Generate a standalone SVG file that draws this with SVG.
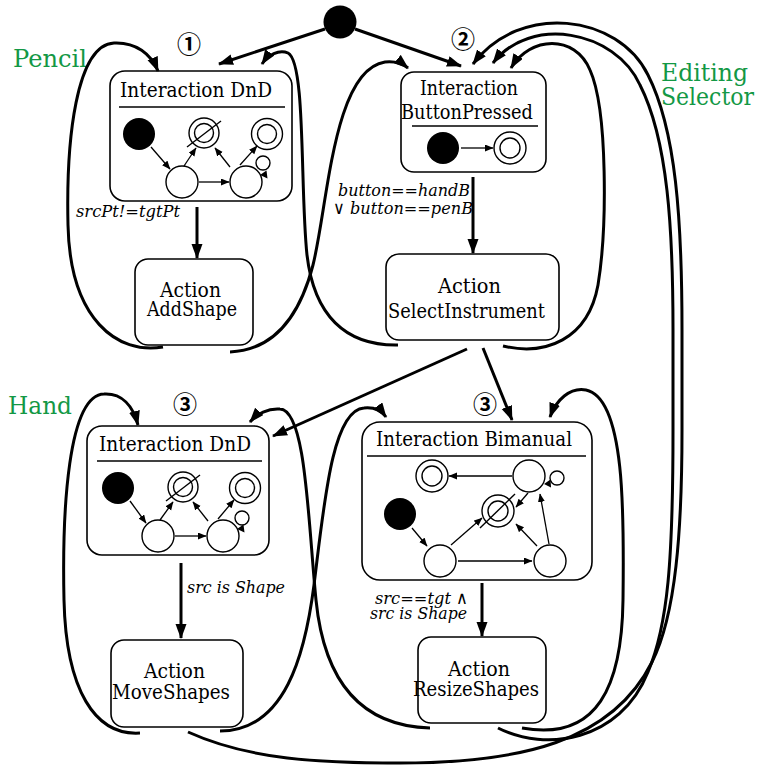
<svg xmlns="http://www.w3.org/2000/svg" width="758" height="765" viewBox="0 0 758 765">
<defs>
<style>
.box{fill:#fff;stroke:#000;stroke-width:1.6}
.sep{stroke:#000;stroke-width:1.6}
.t{font-family:'DejaVu Serif','Liberation Serif',serif;font-size:21px;fill:#000}
.lbl{font-family:'DejaVu Serif','Liberation Serif',serif;font-style:italic;font-size:17.5px;fill:#000}
.grn{font-family:'DejaVu Serif','Liberation Serif',serif;font-size:25px;fill:#139845}
.num{font-family:'Noto Sans CJK JP','Noto Sans CJK SC','DejaVu Sans',sans-serif;font-size:24px;font-weight:bold;text-anchor:middle;fill:#000}
.st{fill:#fff;stroke:#000;stroke-width:1.4}
.lp{fill:none;stroke:#000;stroke-width:1.4}
.ini{fill:#000}
.sl{stroke:#000;stroke-width:1.4}
.sa{stroke:#000;stroke-width:1.3;fill:none;marker-end:url(#sm)}
.con{fill:none;stroke:#000;stroke-width:3;marker-end:url(#big)}
</style>
<marker id="big" markerUnits="userSpaceOnUse" markerWidth="16" markerHeight="12" refX="14" refY="5.5" orient="auto"><path d="M0,0 L15,5.5 L0,11 z" fill="#000"/></marker>
<marker id="sm" markerUnits="userSpaceOnUse" markerWidth="10" markerHeight="8" refX="8" refY="3.5" orient="auto"><path d="M0,0 L8.5,3.5 L0,7 z" fill="#000"/></marker>
</defs>

<!-- labels -->
<text class="grn" x="13" y="67" textLength="74" lengthAdjust="spacingAndGlyphs">Pencil</text>
<text class="grn" x="661" y="81" textLength="87" lengthAdjust="spacingAndGlyphs">Editing</text>
<text class="grn" x="661" y="105" textLength="93" lengthAdjust="spacingAndGlyphs">Selector</text>
<text class="grn" x="8" y="414" textLength="64" lengthAdjust="spacingAndGlyphs">Hand</text>

<text class="num" x="189" y="53">①</text>
<text class="num" x="463" y="48">②</text>
<text class="num" x="185" y="413">③</text>
<text class="num" x="485" y="413">③</text>

<!-- initial -->
<g id="init">
<circle class="ini" cx="340" cy="22" r="16.5"/>
</g>

<!-- DnD 1 -->
<g id="dnd1" transform="translate(110,71)">
<rect class="box" x="0" y="0" width="182" height="130" rx="15"/>
<text class="t" x="10" y="26" textLength="152" lengthAdjust="spacingAndGlyphs">Interaction DnD</text>
<line class="sep" x1="9" y1="36" x2="175" y2="36"/>
<circle class="ini" cx="29" cy="63" r="16"/>
<circle class="st" cx="94" cy="62" r="15"/><circle class="st" cx="94" cy="62" r="9.5"/>
<line class="sl" x1="77" y1="76" x2="111" y2="50"/>
<circle class="st" cx="157" cy="63" r="15.5"/><circle class="st" cx="157" cy="63" r="9.5"/>
<circle class="st" cx="72" cy="111" r="16"/>
<circle class="st" cx="136" cy="111" r="16"/>
<circle class="lp" cx="153" cy="92" r="7"/>
<path d="M150,104 L156.5,99.5 L157.5,107.5 z"/>
<path class="sa" d="M41,76 L60,98"/>
<path class="sa" d="M74,95 L86,77"/>
<path class="sa" d="M89,111 L119,111"/>
<path class="sa" d="M120,96 L105,77"/>
<path class="sa" d="M130,94 L147,75"/>
</g>

<!-- AddShape -->
<g id="addshape">
<rect class="box" x="135" y="259" width="118" height="86" rx="13"/>
<text class="t" x="160" y="297" textLength="61" lengthAdjust="spacingAndGlyphs">Action</text>
<text class="t" x="147" y="316" textLength="90" lengthAdjust="spacingAndGlyphs">AddShape</text>
</g>

<!-- ButtonPressed -->
<g id="buttonpressed">
<rect class="box" x="401" y="72" width="145" height="100" rx="13"/>
<text class="t" x="420" y="95" textLength="98" lengthAdjust="spacingAndGlyphs">Interaction</text>
<text class="t" x="401" y="119" textLength="132" lengthAdjust="spacingAndGlyphs">ButtonPressed</text>
<line class="sep" x1="412" y1="126" x2="538" y2="126"/>
<circle class="ini" cx="443" cy="148" r="16"/>
<circle class="st" cx="510" cy="148" r="16"/><circle class="st" cx="510" cy="148" r="10"/>
<path class="sa" d="M461,148 L493,148"/>
</g>

<!-- SelectInstrument -->
<g id="selectinstrument">
<rect class="box" x="386" y="254" width="173" height="86" rx="13"/>
<text class="t" x="438" y="293" textLength="63" lengthAdjust="spacingAndGlyphs">Action</text>
<text class="t" x="388" y="318" textLength="157" lengthAdjust="spacingAndGlyphs">SelectInstrument</text>
</g>

<!-- DnD 3 -->
<g id="dnd3" transform="translate(87,426)">
<rect class="box" x="0" y="0" width="182" height="129" rx="15"/>
<text class="t" x="12" y="25" textLength="152" lengthAdjust="spacingAndGlyphs">Interaction DnD</text>
<line class="sep" x1="10" y1="35" x2="175" y2="35"/>
<circle class="ini" cx="31" cy="62" r="16"/>
<circle class="st" cx="96" cy="61" r="15"/><circle class="st" cx="96" cy="61" r="9.5"/>
<line class="sl" x1="79" y1="75" x2="113" y2="49"/>
<circle class="st" cx="158" cy="62" r="15.5"/><circle class="st" cx="158" cy="62" r="9.5"/>
<circle class="st" cx="71" cy="110" r="16"/>
<circle class="st" cx="136" cy="110" r="16"/>
<circle class="lp" cx="155" cy="92" r="7"/>
<path d="M150,103 L156.5,98.5 L157.5,106.5 z"/>
<path class="sa" d="M43,75 L59,97"/>
<path class="sa" d="M73,94 L86,76"/>
<path class="sa" d="M88,110 L119,110"/>
<path class="sa" d="M121,95 L106,76"/>
<path class="sa" d="M131,93 L147,74"/>
</g>

<!-- MoveShapes -->
<g id="moveshapes">
<rect class="box" x="111" y="640" width="132" height="87" rx="13"/>
<text class="t" x="144" y="678" textLength="61" lengthAdjust="spacingAndGlyphs">Action</text>
<text class="t" x="112" y="699" textLength="118" lengthAdjust="spacingAndGlyphs">MoveShapes</text>
</g>

<!-- Bimanual -->
<g id="bimanual">
<rect class="box" x="362" y="422" width="230" height="158" rx="18"/>
<text class="t" x="376" y="446" textLength="196" lengthAdjust="spacingAndGlyphs">Interaction Bimanual</text>
<line class="sep" x1="367" y1="456" x2="586" y2="456"/>
<circle class="st" cx="432" cy="476" r="16"/><circle class="st" cx="432" cy="476" r="10"/>
<circle class="st" cx="529" cy="476" r="16"/>
<circle class="lp" cx="557" cy="478" r="7"/>
<path d="M544,484 L550.5,479.5 L551,487.5 z"/>
<circle class="ini" cx="400" cy="514" r="16"/>
<circle class="st" cx="498" cy="511" r="16"/><circle class="st" cx="498" cy="511" r="10"/>
<line class="sl" x1="480" y1="528" x2="515" y2="494"/>
<circle class="st" cx="440" cy="561" r="16"/>
<circle class="st" cx="550" cy="561" r="16"/>
<path class="sa" d="M512,476 L449,476"/>
<path class="sa" d="M528,493 L516,507"/>
<path class="sa" d="M412,528 L427,546"/>
<path class="sa" d="M451,545 L482,518"/>
<path class="sa" d="M458,561 L532,561"/>
<path class="sa" d="M537,546 L516,524"/>
<path class="sa" d="M549,544 L540,494"/>
</g>

<!-- ResizeShapes -->
<g id="resizeshapes">
<rect class="box" x="418" y="637" width="128" height="86" rx="13"/>
<text class="t" x="448" y="676" textLength="62" lengthAdjust="spacingAndGlyphs">Action</text>
<text class="t" x="413" y="696" textLength="126" lengthAdjust="spacingAndGlyphs">ResizeShapes</text>
</g>

<!-- connectors -->
<g id="connectors">
<path class="con" d="M325,29 L219,64"/>
<path class="con" d="M355,29 L461,66"/>
<path class="con" d="M197,207 L197,258"/>
<path class="con" d="M163,347 C118,355 70,320 68,225 C66,140 76,45 114,43 C136,42 151,54 158,71"/>
<path class="con" d="M230,352 C275,350 300,315 313,265 C328,205 333,70 385,62 C395,61 402,63 408,68"/>
<path class="con" d="M398,345 C345,346 314,315 307,255 C300,190 306,62 288,53 C279,49 268,55 262,64"/>
<path class="con" d="M473,177 L473,253"/>
<path class="con" d="M503,346 C545,356 588,340 598,285 C607,230 608,110 590,70 C575,34 530,36 511,68"/>
<path class="con" d="M467,349 L273,436"/>
<path class="con" d="M483,348 L512,420"/>
<path class="con" d="M181,563 L181,638"/>
<path class="con" d="M140,733 C95,736 66,690 64,600 C62,510 68,395 104,394 C122,393 133,406 138,425"/>
<path class="con" d="M220,731 C285,731 305,655 314,585 C324,505 332,410 364,408 C374,407 381,410 386,417"/>
<path class="con" d="M430,728 C360,726 324,680 316,600 C308,520 306,410 280,409 C268,408 257,414 250,422"/>
<path class="con" d="M482,583 L482,636"/>
<path class="con" d="M522,728 C598,742 622,685 623,600 C624,520 626,398 586,390 C570,387 556,400 550,417"/>
<path class="con" d="M498,728 C545,752 620,742 648,672 C668,625 673,560 673,430 L673,330 C673,230 668,140 640,85 C615,30 530,15 493,63"/>
<path class="con" d="M188,732 C250,760 320,763 400,763 C520,763 612,742 652,662 C676,615 682,530 682,430 L682,330 C682,220 676,130 648,75 C618,14 520,2 473,64"/>
<text class="lbl" x="76" y="217" textLength="104" lengthAdjust="spacingAndGlyphs">srcPt!=tgtPt</text>
<text class="lbl" x="338" y="196" textLength="132" lengthAdjust="spacingAndGlyphs">button==handB</text>
<text class="lbl" x="333" y="214" textLength="140" lengthAdjust="spacingAndGlyphs">∨ button==penB</text>
<text class="lbl" x="187" y="593" textLength="98" lengthAdjust="spacingAndGlyphs">src is Shape</text>
<text class="lbl" x="375" y="604" textLength="93" lengthAdjust="spacingAndGlyphs">src==tgt ∧</text>
<text class="lbl" x="370" y="619" textLength="97" lengthAdjust="spacingAndGlyphs">src is Shape</text>
</g>
</svg>
